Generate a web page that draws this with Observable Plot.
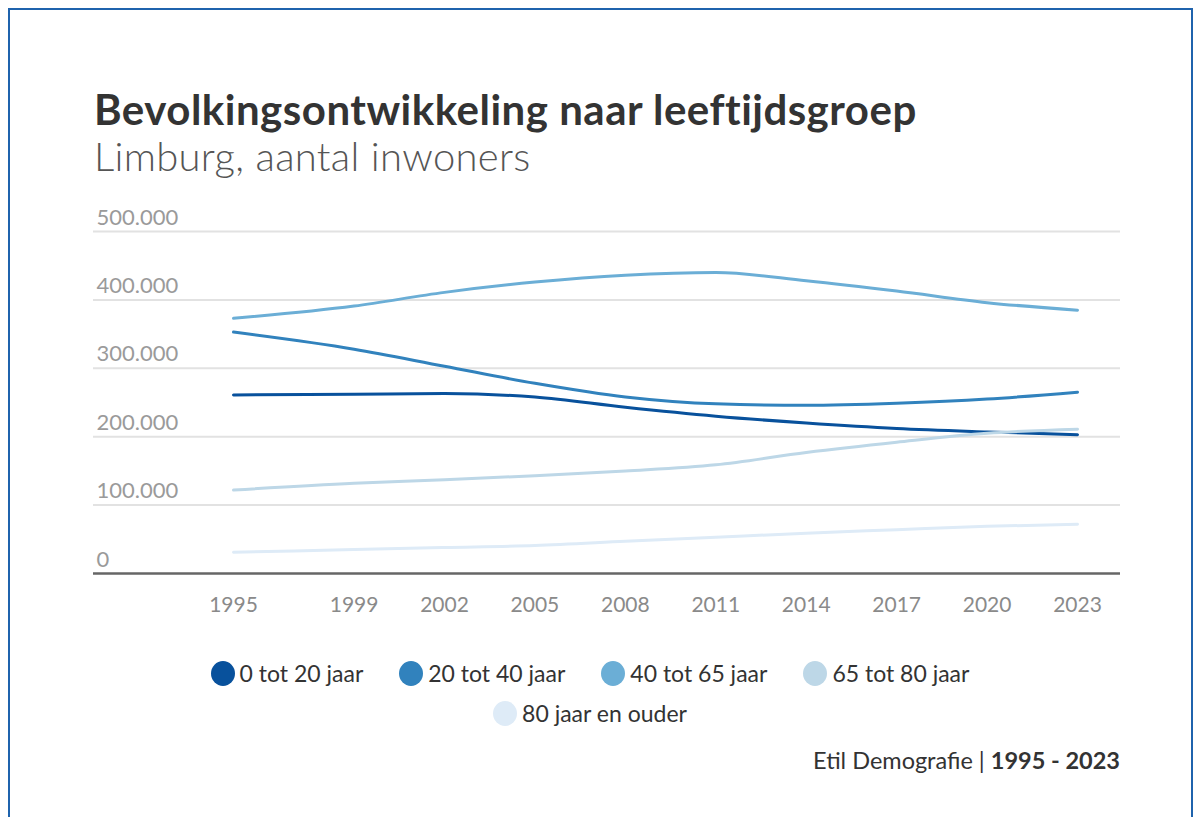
<!DOCTYPE html>
<html><head><meta charset="utf-8">
<script src="https://cdn.jsdelivr.net/npm/d3@7"></script>
<script src="https://cdn.jsdelivr.net/npm/@observablehq/plot@0.6"></script>
<style>
body{margin:0;background:#fff;font-family:Lato,"Noto Sans",sans-serif;width:1200px;height:817px;overflow:hidden;position:relative;}
#frame{position:absolute;left:8px;top:8px;width:1185px;height:900px;border:2px solid #1f63ad;box-sizing:border-box;}
#title{position:absolute;left:94px;top:84px;font-size:42px;letter-spacing:0.5px;font-weight:700;color:#333;white-space:nowrap;line-height:50px;}
#subtitle{position:absolute;left:94px;top:133px;font-size:40px;letter-spacing:0.3px;font-weight:300;color:#555;white-space:nowrap;line-height:46px;}
#chart{position:absolute;left:0;top:190px;}
#legend{position:absolute;left:180px;top:653px;width:820px;display:flex;flex-wrap:wrap;justify-content:center;column-gap:36px;}
.item{display:flex;align-items:center;height:40px;font-size:23px;color:#333;}
.sw{width:24px;height:25px;border-radius:50%;margin-right:5px;}
#caption{position:absolute;right:80px;top:745px;font-size:23.5px;color:#333;white-space:nowrap;line-height:30px;}
</style></head>
<body>
<div id="frame"></div>
<div id="title">Bevolkingsontwikkeling naar leeftijdsgroep</div>
<div id="subtitle">Limburg, aantal inwoners</div>
<div id="chart"></div>
<div id="legend"></div>
<div id="caption">Etil Demografie | <b>1995 - 2023</b></div>
<script>
const years = [1995, 1999, 2002, 2005, 2008, 2011, 2014, 2017, 2020, 2023];
const groups = ["0 tot 20 jaar", "20 tot 40 jaar", "40 tot 65 jaar", "65 tot 80 jaar", "80 jaar en ouder"];
const colors = ["#08519c", "#3182bd", "#6baed6", "#bdd7e7", "#deebf7"];
const age0_20  = [261000, 262000, 263000, 258000, 243000, 230000, 220000, 212000, 207000, 203000];
const age20_40 = [353000, 328000, 303000, 278000, 258000, 248000, 246000, 249000, 255000, 265000];
const age40_65 = [373000, 391000, 411000, 426000, 436000, 440000, 428000, 413000, 396000, 385000];
const age65_80 = [122000, 132000, 137000, 143000, 150000, 159000, 177000, 192000, 205000, 211000];
const age80plus = [31000, 35000, 38000, 41000, 47000, 53000, 59000, 64000, 69000, 72000];
const yTicks = [0, 100000, 200000, 300000, 400000, 500000];

const series = [age0_20, age20_40, age40_65, age65_80, age80plus];
const data = groups.flatMap((g, j) => years.map((yr, i) => ({year: yr, group: g, value: series[j][i]})));
const nl = d3.formatLocale({decimal: ",", thousands: ".", grouping: [3], currency: ["€", ""]});
const fmt = nl.format(",d");

const chart = Plot.plot({
  width: 1200, height: 440,
  marginLeft: 93, marginRight: 80, marginTop: 41, marginBottom: 57,
  style: {fontFamily: "Lato, sans-serif", background: "transparent"},
  x: {domain: [1995, 2023], range: [233, 1077], label: null},
  y: {domain: [0, 500000], range: [383, 41], label: null},
  color: {domain: groups, range: colors},
  marks: [
    Plot.ruleY(yTicks.slice(1), {stroke: "#e2e2e2", strokeWidth: 2}),
    Plot.ruleY([0], {stroke: "#666", strokeWidth: 2.5}),
    Plot.axisY(yTicks, {tickSize: 0, textAnchor: "start", dx: 12, dy: -14, tickFormat: fmt, fontSize: 22, fill: "#9a9a9a", label: null}),
    Plot.axisX(years, {tickSize: 0, tickPadding: 24, tickFormat: d => String(d), fontSize: 21, fill: "#8a8a8a", label: null}),
    Plot.lineY(data, {x: "year", y: "value", stroke: "group", strokeWidth: 3, curve: "monotone-x"})
  ]
});
document.getElementById("chart").appendChild(chart);

const legend = document.getElementById("legend");
groups.forEach((g, i) => {
  const it = document.createElement("div");
  it.className = "item";
  const sw = document.createElement("span");
  sw.className = "sw";
  sw.style.background = colors[i];
  it.appendChild(sw);
  it.appendChild(document.createTextNode(g));
  legend.appendChild(it);
});
</script>
</body></html>
